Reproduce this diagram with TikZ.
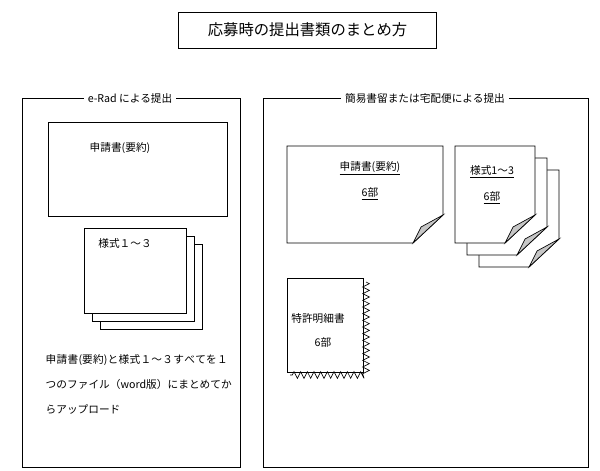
\documentclass[tikz,border=0pt]{standalone}
\usepackage{fontspec}
\setmainfont{Noto Sans CJK JP}
\XeTeXlinebreaklocale "ja"
\XeTeXlinebreakskip=0pt plus 1pt
\usetikzlibrary{positioning,decorations.pathmorphing}
\begin{document}
\begin{tikzpicture}[x=0.75pt,y=-0.75pt,font=\fontsize{8}{10}\selectfont]
\tikzstyle{frame}=[draw,line width=0.6pt]
\tikzstyle{caption}=[fill=white,inner sep=3pt]
\tikzstyle{paper}=[draw,fill=white,line width=0.6pt]
\tikzstyle{curl}=[draw,fill=gray!45,line width=0.5pt]
% sheet with curled corner
\newcommand{\sheet}[4]{%
  \path[paper] (#1,#2) -- (#3,#2) -- (#3,#4-28) -- (#3-30,#4) -- (#1,#4) -- cycle;
  \path[curl] (#3,#4-28) -- (#3-30,#4) -- (#3-22,#4-16) -- cycle;}
\newcommand{\uline}[1]{\underline{#1}}
\useasboundingbox (0,0) rectangle (600,471);

% title
\node[draw,line width=0.6pt,minimum width=194pt,minimum height=27pt,font=\fontsize{11.5}{13}\selectfont] (title) at (307.5,30) {応募時の提出書類のまとめ方};

% frames
\draw[frame] (22,98) rectangle (240,467);
\draw[frame] (263,98) rectangle (588,467);
\node[caption] (erad) at (130,98) {e-Rad による提出};
\node[caption] (post) at (425,98) {簡易書留または宅配便による提出};

% e-Rad side
\draw[frame] (48,122) rectangle (227,216);
\node (summary) at (120,148) {申請書(要約)};
\foreach \d in {16,8,0}
  \draw[paper] (84+\d,228+\d) rectangle (186+\d,313+\d);
\node (forms) at (125,243) {様式１～３};
\node[align=left,anchor=north west,text width=140pt,font=\fontsize{8}{18.75}\selectfont] (note) at (41,350)
  {申請書(要約)と様式１～３すべてを１つのファイル（word版）にまとめてからアップロード};

% postal side
\sheet{287}{146}{443}{243}
\node (psummary) at (370,168) {\uline{申請書(要約)}};
\node (pcopies) at (370,194) {\uline{6部}};
\foreach \d in {24,12,0}
  {\sheet{455+\d}{146+\d}{535+\d}{243+\d}}
\node (pforms) at (492,172) {\uline{様式1～3}};
\node (fcopies) at (492,198) {\uline{6部}};
\draw[paper] (287,278) rectangle (363,372);
\draw[line width=0.5pt,decoration={zigzag,segment length=5,amplitude=2.5},decorate]
  (366,282) -- (366,375) -- (290,375);
\node (spec) at (318,318) {特許明細書};
\node (scopies) at (323,342) {6部};
\end{tikzpicture}
\end{document}
